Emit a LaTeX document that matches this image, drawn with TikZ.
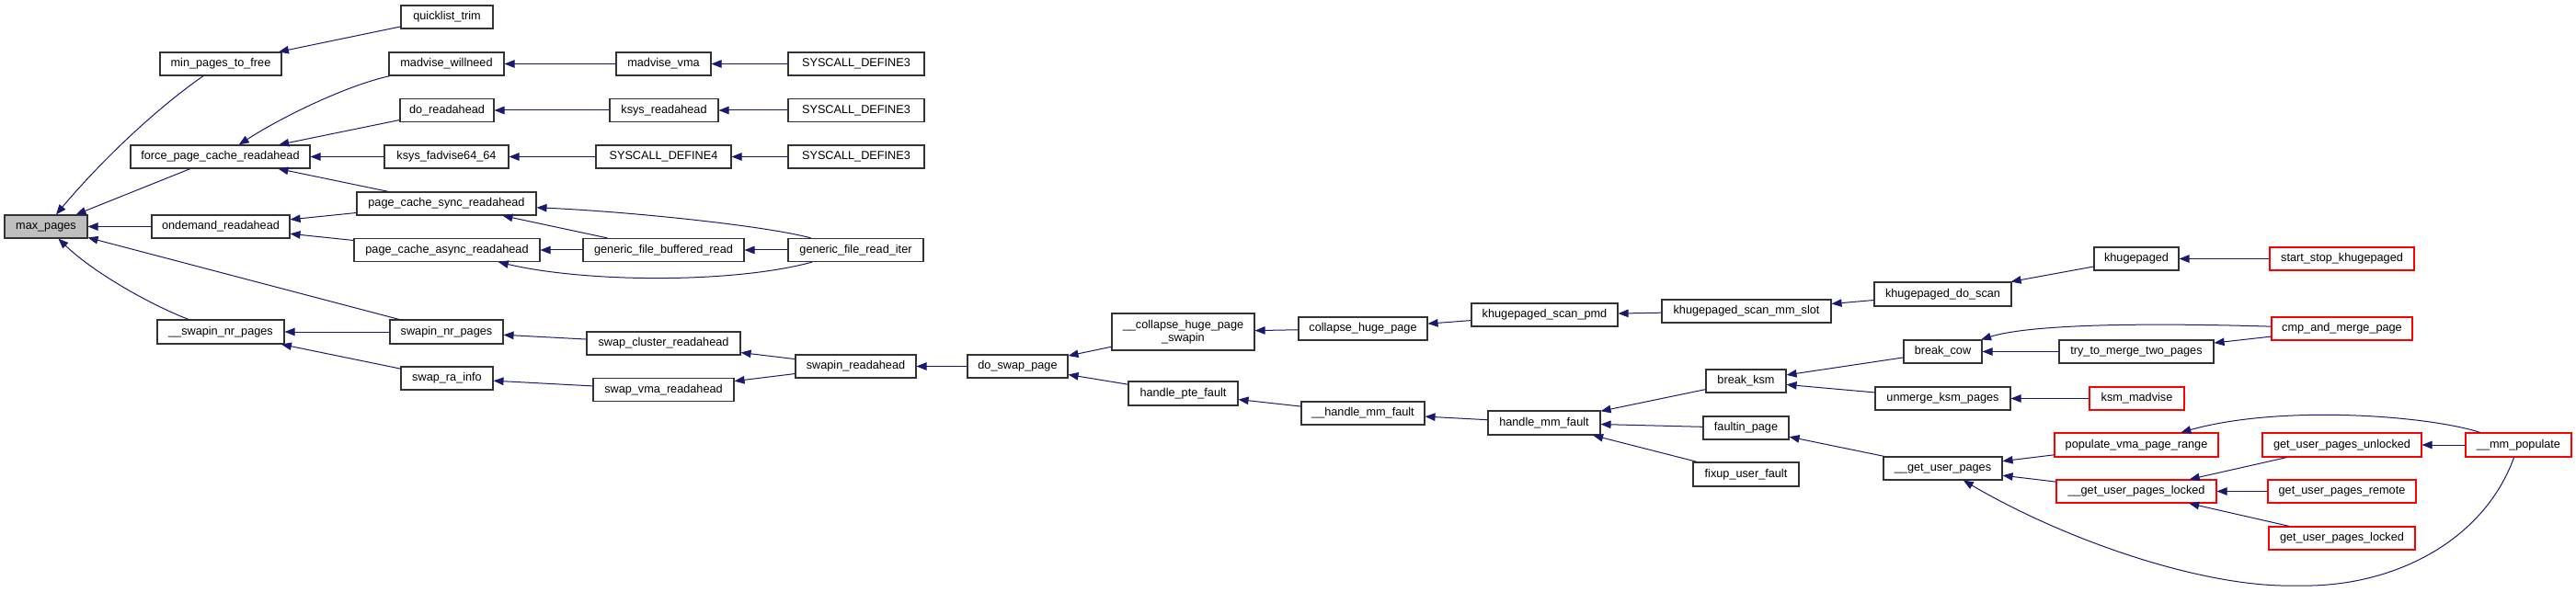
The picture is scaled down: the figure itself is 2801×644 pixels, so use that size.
\documentclass[tikz,border=0pt]{standalone}
\usepackage{fontspec}
\setmainfont{Liberation Sans}
\usetikzlibrary{arrows.meta}
\definecolor{edgeblue}{HTML}{191970}
\definecolor{rootgray}{HTML}{BFBFBF}
\definecolor{boxline}{HTML}{333333}
\definecolor{truncred}{HTML}{FF0000}
\tikzset{
  fnbase/.style={draw=boxline, line width=1.1pt, fill=white, inner sep=0pt,
    minimum height=25pt, font=\fontsize{12.7pt}{14pt}\selectfont},
  fn/.style={fnbase, text height=9.2pt, text depth=2.7pt},
  trunc/.style={fn, draw=truncred},
  root/.style={fn, fill=rootgray},
  cedge/.style={draw=edgeblue, line width=1pt, -{Triangle[length=11pt,width=8.5pt]}},
}
\begin{document}
\begin{tikzpicture}[x=1pt,y=-1pt]
\useasboundingbox (0,0) rectangle (2801,644);
% column 1
\node[root, minimum width=90pt] (maxp) at (50,246.5) {max\_pages};
\node[fn, minimum width=132pt] (minp) at (240,69.5) {min\_pages\_to\_free};
\node[fn, minimum width=195pt] (force) at (239.5,170.5) {force\_page\_cache\_readahead};
\node[fn, minimum width=150pt] (ondem) at (240,246.5) {ondemand\_readahead};
\node[fn, minimum width=138pt, minimum height=26pt] (uswpn) at (240,361) {\_\_swapin\_nr\_pages};
% column 2
\node[fn, minimum width=100pt] (qtrim) at (486,18.5) {quicklist\_trim};
\node[fn, minimum width=125pt] (madw) at (485.5,69.5) {madvise\_willneed};
\node[fn, minimum width=102pt] (dora) at (486,120) {do\_readahead};
\node[fn, minimum width=135pt] (ksysfad) at (485.5,170.5) {ksys\_fadvise64\_64};
\node[fn, minimum width=195pt] (pcsync) at (485.5,221.5) {page\_cache\_sync\_readahead};
\node[fn, minimum width=202pt] (pcasync) at (486,272) {page\_cache\_async\_readahead};
\node[fn, minimum width=123pt, minimum height=26pt] (swpn) at (485.5,361) {swapin\_nr\_pages};
\node[fn, minimum width=100pt] (swrai) at (486,411.5) {swap\_ra\_info};
% column 3
\node[fn, minimum width=103pt] (madvma) at (721.5,69.5) {madvise\_vma};
\node[fn, minimum width=118pt] (ksysra) at (722,120) {ksys\_readahead};
\node[fn, minimum width=147pt] (sd4) at (721.5,170.5) {SYSCALL\_DEFINE4};
\node[fn, minimum width=175pt] (gfbr) at (721.5,272) {generic\_file\_buffered\_read};
\node[fn, minimum width=167pt] (swclus) at (721.5,373.5) {swap\_cluster\_readahead};
\node[fn, minimum width=153pt] (swvma) at (721.5,424) {swap\_vma\_readahead};
% column 4
\node[fn, minimum width=148pt] (sd3a) at (931,69.5) {SYSCALL\_DEFINE3};
\node[fn, minimum width=148pt] (sd3b) at (931,120) {SYSCALL\_DEFINE3};
\node[fn, minimum width=148pt] (sd3c) at (931,170.5) {SYSCALL\_DEFINE3};
\node[fn, minimum width=147pt] (gfri) at (930.5,272) {generic\_file\_read\_iter};
\node[fn, minimum width=131pt] (swra) at (930.5,398.5) {swapin\_readahead};
% further columns
\node[fn, minimum width=109pt] (dosw) at (1106.5,398.5) {do\_swap\_page};
\node[fnbase, minimum width=155pt, minimum height=40pt, align=center] (chps) at (1286.5,361) {\_\_collapse\_huge\_page\\\_swapin};
\node[fn, minimum width=119pt, minimum height=26pt] (hpte) at (1286.5,428) {handle\_pte\_fault};
\node[fn, minimum width=140pt] (chp) at (1482,357.5) {collapse\_huge\_page};
\node[fn, minimum width=134pt] (uhmm) at (1482,449.5) {\_\_handle\_mm\_fault};
\node[fn, minimum width=159pt] (kspmd) at (1679.5,342.5) {khugepaged\_scan\_pmd};
\node[fn, minimum width=122pt, minimum height=26pt] (hmm) at (1679,460) {handle\_mm\_fault};
\node[fn, minimum width=184pt] (ksmms) at (1899,338.5) {khugepaged\_scan\_mm\_slot};
\node[fn, minimum width=87pt] (bksm) at (1898.5,414.5) {break\_ksm};
\node[fn, minimum width=93pt] (faultin) at (1898.5,465.5) {faultin\_page};
\node[fn, minimum width=115pt, minimum height=26pt] (fixup) at (1898.5,516) {fixup\_user\_fault};
\node[fn, minimum width=149pt, minimum height=26pt] (kdoscan) at (2112.5,320) {khugepaged\_do\_scan};
\node[fn, minimum width=85pt] (bcow) at (2112.5,382.5) {break\_cow};
\node[fn, minimum width=147pt] (unmerge) at (2112.5,433.5) {unmerge\_ksm\_pages};
\node[fn, minimum width=129pt] (ugup) at (2112.5,509.5) {\_\_get\_user\_pages};
\node[fn, minimum width=92pt] (khp) at (2323,281.5) {khugepaged};
\node[fn, minimum width=168pt] (ttm) at (2323,382.5) {try\_to\_merge\_two\_pages};
\node[trunc, minimum width=103pt] (ksmmad) at (2323.5,433.5) {ksm\_madvise};
\node[trunc, minimum width=178pt, minimum height=26pt] (pvma) at (2323,484) {populate\_vma\_page\_range};
\node[trunc, minimum width=174pt] (ugupl) at (2323,534.5) {\_\_get\_user\_pages\_locked};
\node[trunc, minimum width=157pt] (sskhp) at (2546.5,281.5) {start\_stop\_khugepaged};
\node[trunc, minimum width=153pt] (cmp) at (2546.5,357.5) {cmp\_and\_merge\_page};
\node[trunc, minimum width=173pt, minimum height=26pt] (gupunl) at (2546.5,484) {get\_user\_pages\_unlocked};
\node[trunc, minimum width=161pt] (guprem) at (2546.5,534.5) {get\_user\_pages\_remote};
\node[trunc, minimum width=159pt] (guplock) at (2546.5,585.5) {get\_user\_pages\_locked};
\node[trunc, minimum width=115pt, minimum height=26pt] (mmpop) at (2738.5,484) {\_\_mm\_populate};
% edges
\draw[cedge] (minp) .. controls (170,118) and (110,175) .. (maxp);
\draw[cedge] (force) -- (maxp);
\draw[cedge] (ondem) -- (maxp);
\draw[cedge] (swpn) -- (maxp);
\draw[cedge] (uswpn) .. controls (160,330) and (100,295) .. (maxp);
\draw[cedge] (qtrim) -- (minp);
\draw[cedge] (madw) .. controls (380,92) and (310,125) .. (force);
\draw[cedge] (dora) -- (force);
\draw[cedge] (ksysfad) -- (force);
\draw[cedge] (pcsync) -- (force);
\draw[cedge] (pcsync) -- (ondem);
\draw[cedge] (pcasync) -- (ondem);
\draw[cedge] (madvma) -- (madw);
\draw[cedge] (sd3a) -- (madvma);
\draw[cedge] (ksysra) -- (dora);
\draw[cedge] (sd3b) -- (ksysra);
\draw[cedge] (sd4) -- (ksysfad);
\draw[cedge] (sd3c) -- (sd4);
\draw[cedge] (gfri) .. controls (830,245) and (680,230) .. (pcsync);
\draw[cedge] (gfbr) -- (pcsync);
\draw[cedge] (gfbr) -- (pcasync);
\draw[cedge] (gfri) .. controls (800,308) and (640,308) .. (pcasync);
\draw[cedge] (gfri) -- (gfbr);
\draw[cedge] (swpn) -- (uswpn);
\draw[cedge] (swrai) -- (uswpn);
\draw[cedge] (swclus) -- (swpn);
\draw[cedge] (swvma) -- (swrai);
\draw[cedge] (swra) -- (swclus);
\draw[cedge] (swra) -- (swvma);
\draw[cedge] (dosw) -- (swra);
\draw[cedge] (chps) -- (dosw);
\draw[cedge] (hpte) -- (dosw);
\draw[cedge] (chp) -- (chps);
\draw[cedge] (uhmm) -- (hpte);
\draw[cedge] (kspmd) -- (chp);
\draw[cedge] (hmm) -- (uhmm);
\draw[cedge] (ksmms) -- (kspmd);
\draw[cedge] (kdoscan) -- (ksmms);
\draw[cedge] (khp) -- (kdoscan);
\draw[cedge] (sskhp) -- (khp);
\draw[cedge] (bksm) -- (hmm);
\draw[cedge] (faultin) -- (hmm);
\draw[cedge] (fixup) -- (hmm);
\draw[cedge] (bcow) -- (bksm);
\draw[cedge] (unmerge) -- (bksm);
\draw[cedge] (cmp) .. controls (2300,350) and (2200,355) .. (bcow);
\draw[cedge] (ttm) -- (bcow);
\draw[cedge] (cmp) -- (ttm);
\draw[cedge] (ksmmad) -- (unmerge);
\draw[cedge] (ugup) -- (faultin);
\draw[cedge] (pvma) -- (ugup);
\draw[cedge] (ugupl) -- (ugup);
\draw[cedge] (mmpop) .. controls (2700,590) and (2600,640) .. (2497,637) .. controls (2400,640) and (2250,590) .. (ugup);
\draw[cedge] (mmpop) .. controls (2640,452) and (2480,440) .. (pvma);
\draw[cedge] (gupunl) -- (ugupl);
\draw[cedge] (guprem) -- (ugupl);
\draw[cedge] (guplock) -- (ugupl);
\draw[cedge] (mmpop) -- (gupunl);
\end{tikzpicture}
\end{document}
